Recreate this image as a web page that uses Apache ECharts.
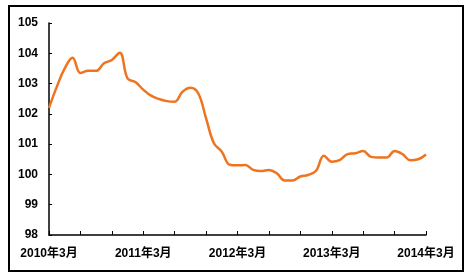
<!DOCTYPE html>
<html><head><meta charset="utf-8">
<script src="https://cdn.jsdelivr.net/npm/echarts@6/dist/echarts.min.js"></script>
<style>html,body{margin:0;padding:0;background:#fff}#c{width:469px;height:276px}</style>
</head><body><div id="c"></div>
<script>
const years = [2010, 2011, 2012, 2013, 2014];
const months = [];
for (let y = 2010; y <= 2014; y++) {
  for (let m = 1; m <= 12; m++) {
    if ((y === 2010 && m < 3) || (y === 2014 && m > 3)) continue;
    months.push(y + '年' + m + '月');
  }
}
const values = [102.2, 102.9, 103.5, 103.85, 103.35, 103.42, 103.42, 103.67, 103.78, 104.02,
  103.17, 103.05, 102.8, 102.6, 102.49, 102.42, 102.4, 102.73, 102.86, 102.68,
  101.85, 101.03, 100.75, 100.32, 100.3, 100.31, 100.15, 100.11, 100.15, 100.04,
  99.8, 99.8, 99.93, 99.98, 100.12, 100.62, 100.42, 100.47, 100.67, 100.7,
  100.77, 100.58, 100.56, 100.56, 100.77, 100.67, 100.47, 100.5, 100.66];
const yTicks = [98, 99, 100, 101, 102, 103, 104, 105];

const chart = echarts.init(document.getElementById('c'));
const fontBase = {fontFamily: '"Liberation Sans", Arial, "Noto Sans CJK SC", sans-serif', fontWeight: 'bold', fontSize: 12, color: '#000'};
chart.setOption({
  animation: false,
  graphic: [{type: 'rect', shape: {x: 9, y: 6, width: 454, height: 265}, style: {fill: 'none', stroke: '#000', lineWidth: 2}, z: -1}],
  grid: {left: 49, right: 43, top: 23, bottom: 41},
  xAxis: {
    type: 'category', data: months, boundaryGap: false,
    axisLine: {lineStyle: {color: '#000', width: 1.5}},
    axisTick: {inside: true, length: 4, interval: (i) => i % 4 === 0, lineStyle: {color: '#000'}},
    axisLabel: Object.assign({margin: 13, interval: (i) => i % 12 === 0}, fontBase),
    splitLine: {show: false}
  },
  yAxis: {
    type: 'value', min: yTicks[0], max: yTicks[yTicks.length - 1], interval: 1,
    axisLine: {show: true, lineStyle: {color: '#000', width: 1.5}},
    axisTick: {show: true, inside: true, length: 3, lineStyle: {color: '#000'}},
    axisLabel: Object.assign({margin: 11}, fontBase),
    splitLine: {show: false}
  },
  series: [{
    type: 'line', data: values, smooth: 0.4, symbol: 'none',
    lineStyle: {color: '#EE7420', width: 2.5}
  }]
});
</script></body></html>
